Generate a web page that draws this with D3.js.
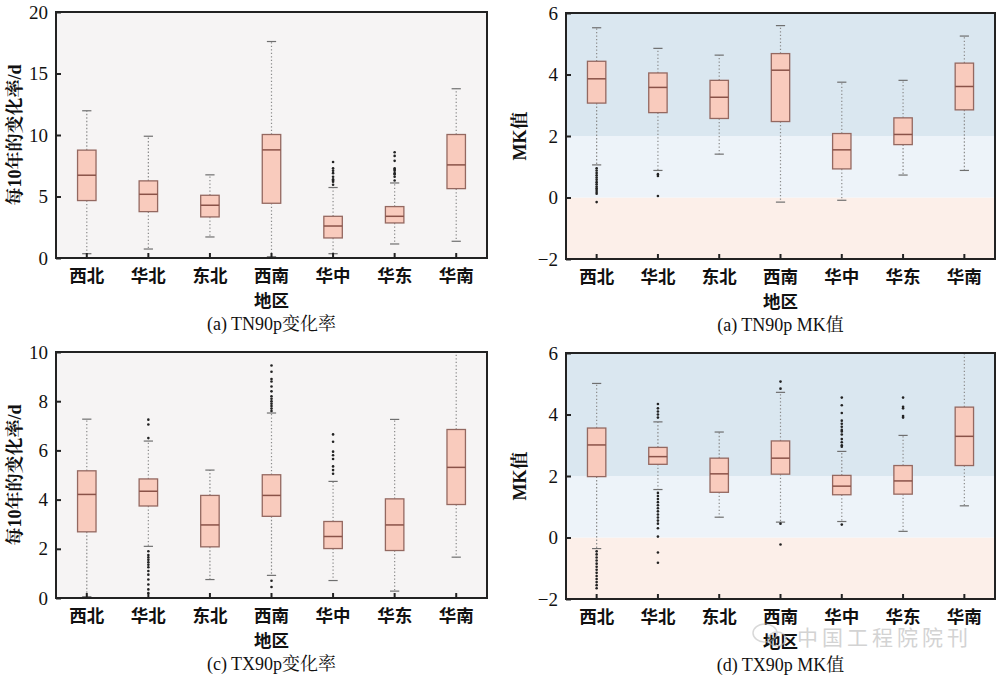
<!DOCTYPE html>
<html><head><meta charset="utf-8">
<script src="https://cdn.jsdelivr.net/npm/d3@7"></script>
<style>
html,body{margin:0;padding:0;background:#fff;}
svg{display:block;}
</style></head>
<body>
<svg id="c" width="1000" height="679"></svg>
<script>
// ---------- DATA ----------
const regions = ["西北","华北","东北","西南","华中","华东","华南"];

// (a) TN90p change rate (d per 10 years)
const aLow  = [0.35, 0.73, 1.71, 0.1, 0.35, 1.14, 1.36];
const aQ1   = [4.67, 3.77, 3.34, 4.45, 1.63, 2.85, 5.64];
const aMed  = [6.73, 5.18, 4.29, 8.79, 2.60, 3.39, 7.57];
const aQ3   = [8.77, 6.27, 5.10, 10.04, 3.39, 4.18, 10.04];
const aHigh = [11.97, 9.90, 6.76, 17.6, 5.73, 6.10, 13.76];
const aOut  = [[], [], [], [],
  [5.95, 6.2, 6.3, 6.4, 6.6, 6.9, 7.1, 7.3, 7.8],
  [6.3, 6.6, 6.8, 6.9, 7.1, 7.2, 7.3, 7.9, 8.3, 8.6],
  []];
const aTicks = [0, 5, 10, 15, 20];

// (b) TN90p MK value
const bLow  = [1.06, 0.88, 1.41, -0.15, -0.09, 0.73, 0.88];
const bQ1   = [3.07, 2.76, 2.57, 2.47, 0.93, 1.72, 2.85];
const bMed  = [3.86, 3.58, 3.26, 4.14, 1.55, 2.05, 3.61];
const bQ3   = [4.43, 4.05, 3.81, 4.68, 2.08, 2.59, 4.37];
const bHigh = [5.52, 4.85, 4.63, 5.59, 3.75, 3.81, 5.25];
const bOut  = [[0.95, 0.88, 0.8, 0.72, 0.65, 0.58, 0.5, 0.43, 0.36, 0.3, 0.24, 0.18, 0.12, -0.15],
  [0.76, 0.7, 0.05], [], [], [], [], []];
const mkTicks = [-2, 0, 2, 4, 6];

// (c) TX90p change rate (d per 10 years)
const cLow  = [0.05, 2.10, 0.75, 0.92, 0.71, 0.28, 1.66];
const cQ1   = [2.69, 3.74, 2.08, 3.32, 2.01, 1.93, 3.80];
const cMed  = [4.21, 4.34, 2.97, 4.17, 2.50, 2.97, 5.31];
const cQ3   = [5.17, 4.84, 4.17, 5.01, 3.11, 4.03, 6.85];
const cHigh = [7.27, 6.38, 5.20, 7.52, 4.74, 7.26, 10.5];
const cOut  = [[],
  [7.25, 7.05, 6.5, 1.9, 1.75, 1.65, 1.55, 1.45, 1.35, 1.25, 1.1, 0.95, 0.75, 0.55, 0.35, 0.2],
  [],
  [9.45, 9.2, 8.9, 8.8, 8.6, 8.4, 8.2, 8.1, 8.0, 7.9, 7.8, 7.7, 7.6, 0.7, 0.45],
  [6.65, 6.35, 5.95, 5.8, 5.65, 5.35, 5.2, 5.05],
  [], []];
const cTicks = [0, 2, 4, 6, 8, 10];

// (d) TX90p MK value
const dLow  = [-0.36, 1.56, 0.66, 0.50, 0.52, 0.20, 1.03];
const dQ1   = [1.98, 2.38, 1.47, 2.06, 1.39, 1.41, 2.34];
const dMed  = [3.01, 2.63, 2.07, 2.58, 1.67, 1.84, 3.29];
const dQ3   = [3.56, 2.93, 2.58, 3.14, 2.02, 2.34, 4.24];
const dHigh = [5.01, 3.76, 3.43, 4.72, 2.80, 3.32, 6.3];
const dOut  = [
  [-0.45, -0.55, -0.65, -0.75, -0.85, -0.95, -1.05, -1.15, -1.25, -1.35, -1.45, -1.55, -1.65],
  [4.34, 4.2, 4.1, 4.0, 3.9, 1.45, 1.35, 1.25, 1.15, 1.05, 0.95, 0.85, 0.75, 0.65, 0.55, 0.45, 0.3, 0.03, -0.49, -0.82],
  [],
  [5.07, 4.84, 0.45, -0.23],
  [4.55, 4.3, 4.05, 3.8, 3.7, 3.6, 3.5, 3.45, 3.35, 3.2, 3.1, 3.0, 2.95, 0.42],
  [4.55, 4.25, 4.2, 3.95, 3.9],
  []];

// MK significance bands
const mkBands = [[-2, 0], [0, 2], [2, 6]];
const mkBandColors = ["#fcefe9", "#edf3f9", "#dae7f0"];

const panels = [
  {low:aLow,q1:aQ1,med:aMed,q3:aQ3,high:aHigh,out:aOut,dom:[0,20],ticks:aTicks,
   box:[56,12,487,258], ylab:"每10年的变化率/d", xlab:"地区", cap:"(a) TN90p变化率", mk:false},
  {low:bLow,q1:bQ1,med:bMed,q3:bQ3,high:bHigh,out:bOut,dom:[-2,6],ticks:mkTicks,
   box:[566,13,995,259], ylab:"MK值", xlab:"地区", cap:"(a) TN90p MK值", mk:true},
  {low:cLow,q1:cQ1,med:cMed,q3:cQ3,high:cHigh,out:cOut,dom:[0,10],ticks:cTicks,
   box:[56,352,487,598], ylab:"每10年的变化率/d", xlab:"地区", cap:"(c) TX90p变化率", mk:false},
  {low:dLow,q1:dQ1,med:dMed,q3:dQ3,high:dHigh,out:dOut,dom:[-2,6],ticks:mkTicks,
   box:[566,353,995,599], ylab:"MK值", xlab:"地区", cap:"(d) TX90p MK值", mk:true}
];

// ---------- DRAW ----------
const svg = d3.select("#c");
const serif = "'Liberation Serif','Times New Roman','Noto Serif CJK SC','Noto Sans CJK SC',serif";
const boxFill = "#f9cbbd", boxStroke = "#946860", axisCol = "#222";

panels.forEach((p, pi) => {
  const [x0, y0, x1, y1] = p.box;
  const x = d3.scaleBand().domain(regions).range([x0, x1]).paddingInner(0).paddingOuter(0);
  const y = d3.scaleLinear().domain(p.dom).range([y1, y0]);
  const g = svg.append("g");
  const clipId = "clip" + pi;
  svg.append("clipPath").attr("id", clipId).append("rect")
    .attr("x", x0).attr("y", y0).attr("width", x1 - x0).attr("height", y1 - y0);

  // background
  if (p.mk) {
    g.selectAll("rect.band").data(mkBands).join("rect")
      .attr("x", x0).attr("width", x1 - x0)
      .attr("y", d => y(d[1])).attr("height", d => y(d[0]) - y(d[1]))
      .attr("fill", (d, i) => mkBandColors[i]);
  } else {
    g.append("rect").attr("x", x0).attr("y", y0).attr("width", x1 - x0).attr("height", y1 - y0)
      .attr("fill", "#f6f4f4");
  }

  const inner = g.append("g").attr("clip-path", `url(#${clipId})`);
  const bw = x.bandwidth() * 0.3;
  const cw = x.bandwidth() * 0.15;
  regions.forEach((r, i) => {
    const cx = x(r) + x.bandwidth() / 2;
    // whiskers
    inner.append("line").attr("x1", cx).attr("x2", cx).attr("y1", y(p.q3[i])).attr("y2", y(p.high[i]))
      .attr("stroke", "#8a8a8a").attr("stroke-width", 1.2).attr("stroke-dasharray", "1.3,2.2");
    inner.append("line").attr("x1", cx).attr("x2", cx).attr("y1", y(p.q1[i])).attr("y2", y(p.low[i]))
      .attr("stroke", "#8a8a8a").attr("stroke-width", 1.2).attr("stroke-dasharray", "1.3,2.2");
    // caps
    [p.high[i], p.low[i]].forEach(v => {
      inner.append("line").attr("x1", cx - cw / 2).attr("x2", cx + cw / 2).attr("y1", y(v)).attr("y2", y(v))
        .attr("stroke", "#6f6f6f").attr("stroke-width", 1.2);
    });
    // box
    inner.append("rect").attr("x", cx - bw / 2).attr("width", bw)
      .attr("y", y(p.q3[i])).attr("height", y(p.q1[i]) - y(p.q3[i]))
      .attr("fill", boxFill).attr("stroke", boxStroke).attr("stroke-width", 1.3);
    inner.append("line").attr("x1", cx - bw / 2).attr("x2", cx + bw / 2)
      .attr("y1", y(p.med[i])).attr("y2", y(p.med[i]))
      .attr("stroke", "#8a5248").attr("stroke-width", 1.5);
    // outliers
    inner.selectAll(null).data(p.out[i]).join("circle")
      .attr("cx", cx).attr("cy", d => y(d)).attr("r", 1.3).attr("fill", "#222");
  });

  // axes
  const ya = d3.axisLeft(y).tickValues(p.ticks).tickSize(-5).tickPadding(8)
    .tickFormat(d => d < 0 ? "\u2212" + Math.abs(d) : d);
  const yg = g.append("g").attr("transform", `translate(${x0},0)`).call(ya);
  yg.select(".domain").remove();
  yg.selectAll("line").attr("stroke", axisCol).attr("stroke-width", 2);
  yg.selectAll("text").attr("font-family", serif).attr("font-size", 19).attr("fill", "#111");

  const xa = d3.axisBottom(x).tickSize(-5).tickPadding(12);
  const xg = g.append("g").attr("transform", `translate(0,${y1})`).call(xa);
  xg.select(".domain").remove();
  xg.selectAll("line").attr("stroke", axisCol).attr("stroke-width", 2);
  xg.selectAll("text").attr("font-family", "'Noto Sans CJK SC',sans-serif").attr("font-weight", "bold")
    .attr("font-size", 17.5).attr("fill", "#111");

  // frame
  g.append("rect").attr("x", x0).attr("y", y0).attr("width", x1 - x0).attr("height", y1 - y0)
    .attr("fill", "none").attr("stroke", axisCol).attr("stroke-width", 2);

  // labels
  const mid = (x0 + x1) / 2;
  g.append("text").attr("x", mid).attr("y", y1 + 49).attr("text-anchor", "middle")
    .attr("font-family", "'Noto Sans CJK SC',sans-serif").attr("font-weight", "bold")
    .attr("font-size", 17.5).attr("fill", "#111").text(p.xlab);
  g.append("text").attr("x", mid).attr("y", y1 + 72).attr("text-anchor", "middle")
    .attr("font-family", serif).attr("font-size", 18).attr("fill", "#111").text(p.cap);
  const ylx = p.mk ? x0 - 46 : x0 - 41;
  g.append("text").attr("transform", `translate(${ylx},${(y0 + y1) / 2}) rotate(-90)`)
    .attr("text-anchor", "middle").attr("dominant-baseline", "central")
    .attr("font-family", serif).attr("font-weight", "bold")
    .attr("font-size", 18).attr("fill", "#111").text(p.ylab);
});

// watermark
const wm = svg.append("g").attr("opacity", 0.55);
wm.append("ellipse").attr("cx", 765).attr("cy", 633).attr("rx", 12).attr("ry", 9)
  .attr("fill", "none").attr("stroke", "#b8b8b8").attr("stroke-width", 1.5);
wm.append("ellipse").attr("cx", 777).attr("cy", 639).attr("rx", 9).attr("ry", 7)
  .attr("fill", "none").attr("stroke", "#b8b8b8").attr("stroke-width", 1.5);
wm.append("text").attr("x", 797).attr("y", 645).attr("font-family", "'Noto Sans CJK SC',sans-serif")
  .attr("font-size", 21).attr("fill", "#b0b0b0").attr("letter-spacing", 4).text("中国工程院院刊");
</script>
</body></html>
